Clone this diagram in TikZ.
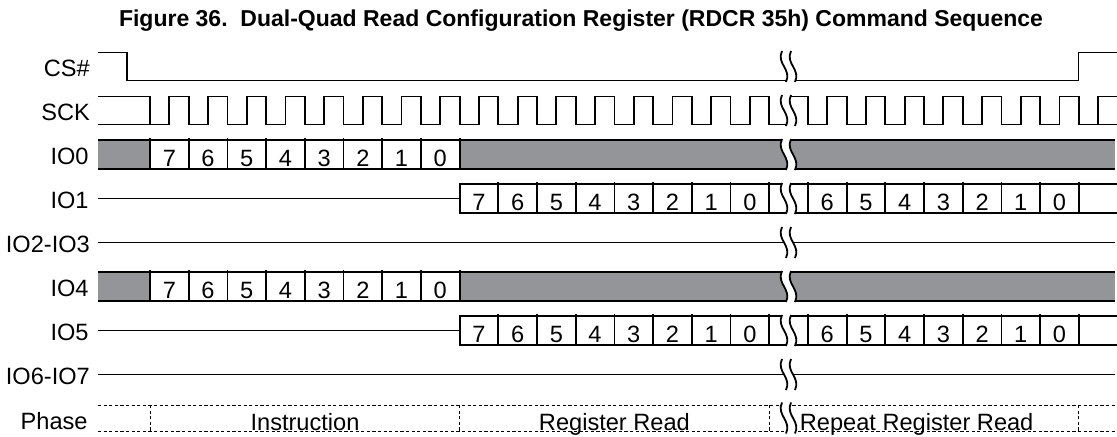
\documentclass[tikz,border=0pt]{standalone}
\usepackage{fontspec}
\setmainfont{Liberation Sans}
\definecolor{busgray}{RGB}{147,149,152}

\begin{document}
\begin{tikzpicture}[x=0.5pt,y=-0.5pt,line width=0.9pt,
  lbl/.style={anchor=base east,inner sep=0pt,font=\fontsize{11.8}{13}\selectfont},
  digit/.style={anchor=base,font=\fontsize{11.8}{13}\selectfont},
  phaseline/.style={line width=0.45pt,dash pattern=on 1.6pt off 1.2pt}]
\useasboundingbox (0,0) rectangle (1117,437);
\node[anchor=base,font=\fontsize{11.5}{13}\selectfont\bfseries] (title) at (581,27)
  {Figure 36.\ \ Dual-Quad Read Configuration Register (RDCR 35h) Command Sequence};

% signal names
\node[lbl] (cs) at (90.7,76.5) {CS\#};
\node[lbl] (sck) at (90.7,120.5) {SCK};
\node[lbl] (io0) at (89.5,164.5) {IO0};
\node[lbl] (io1) at (89.5,208.5) {IO1};
\node[lbl] (io23) at (90.7,252.5) {IO2-IO3};
\node[lbl] (io4) at (89.5,296.5) {IO4};
\node[lbl] (io5) at (89.5,340.5) {IO5};
\node[lbl] (io67) at (90.7,384.5) {IO6-IO7};
\node[lbl] (phase) at (88.5,429.5) {Phase};

% CS#
\draw (98,52.5) -- (126.7,52.5) -- (126.7,80.5) -- (1078.5,80.5) -- (1078.5,52.5) -- (1117,52.5);

% SCK
\draw (98,96.5) -- (150,96.5) -- (150,124.5) -- (98,124.5);
\draw (150,124.5) \foreach \k in {0,...,23}{ -- ++(19.35,0) -- ++(0,-28) -- ++(19.35,0) -- ++(0,28)}
  -- ++(19.35,0) -- ++(0,-28) -- (1117,96.5);
\draw (1098,124.5) -- (1117,124.5);

% IO0 and IO4: instruction bits, then driven low
\foreach \r/\n in {154.5/a,286.5/b}{
  \fill[busgray] (98,\r-14.5) rectangle (150,\r+14.5);
  \fill[busgray] (459.6,\r-14.5) rectangle (1115,\r+14.5);
  \draw (98,\r-14.5) -- (1115,\r-14.5) (98,\r+14.5) -- (1115,\r+14.5);
  \foreach \k in {0,...,8}
    \draw ({150+38.7*\k},\r-16.5) -- ({150+38.7*\k},\r+14.5);
  \foreach \d [count=\k from 0] in {7,...,0}
    \node[digit] (cmd\n\k) at ({169.35+38.7*\k},\r+12) {\d};
}

% IO1 and IO5: register data
\foreach \r/\n in {198.5/a,330.5/b}{
  \draw (98,\r) -- (459.6,\r);
  \draw (1117,\r-14.5) -- (459.6,\r-14.5) -- (459.6,\r+14.5) -- (1117,\r+14.5);
  \foreach \k in {9,...,24}
    \draw ({150+38.7*\k},\r-16.5) -- ({150+38.7*\k},\r+14.5);
  \foreach \d [count=\k from 8] in {7,...,0}
    \node[digit] (reg\n\k) at ({169.35+38.7*\k},\r+12) {\d};
  \foreach \d [count=\k from 17] in {6,...,0}
    \node[digit] (rep\n\k) at ({169.35+38.7*\k},\r+12) {\d};
}

% unused lines
\draw (98,242.5) -- (1115,242.5);
\draw (98,374.5) -- (1115,374.5);

% phase row
\draw[phaseline] (98,405) -- (1117,405) (98,431) -- (1117,431);
\foreach \k in {0,8,16,24}
  \draw[phaseline] ({150+38.7*\k},405) -- ({150+38.7*\k},431);
\node[digit] (instr) at (305,430.5) {Instruction};
\node[digit] (regread) at (614.4,430.5) {Register Read};
\node[digit,anchor=base west,inner sep=0pt] (repread) at (799,430.5) {Repeat Register Read};

% time break
\foreach \y in {66.5,110.5,154.5,198.5,242.5,286.5,330.5,374.5,418}{
  \fill[white] (782,\y-15.5) .. controls (776,\y-3) and (792,\y+3) .. (786,\y+15.5)
    -- (795,\y+15.5) .. controls (801,\y+3) and (785,\y-3) .. (791,\y-15.5) -- cycle;
  \draw (782,\y-15.5) .. controls (776,\y-3) and (792,\y+3) .. (786,\y+15.5);
  \draw (791,\y-15.5) .. controls (785,\y-3) and (801,\y+3) .. (795,\y+15.5);
}
\end{tikzpicture}
\end{document}
